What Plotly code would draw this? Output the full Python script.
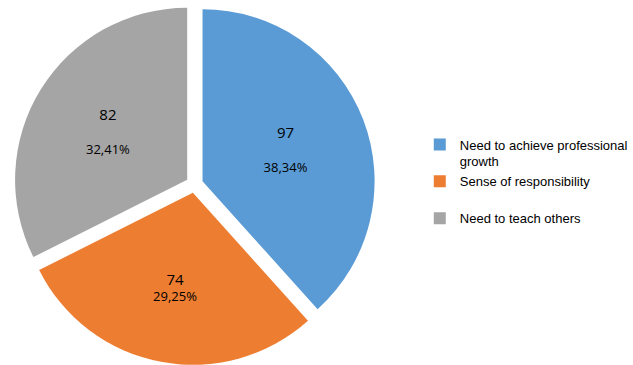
import plotly.graph_objects as go

categories = ["Need to achieve professional<br>growth", "Sense of responsibility<br> ", "Need to teach others"]
values = [97, 74, 82]
colors = ["#5B9BD5", "#ED7D31", "#A5A5A5"]
label_gaps = ["<br><br>", "<br>", "<br><br>"]

total = sum(values)
pct_labels = [f"{v / total * 100:.2f}%".replace(".", ",") for v in values]
texts = [f"<span style='font-size:15px'>{v}</span>{g}{p}" for v, g, p in zip(values, label_gaps, pct_labels)]

fig = go.Figure(go.Pie(
    labels=categories,
    values=values,
    text=texts,
    textinfo="text",
    textposition="inside",
    insidetextorientation="horizontal",
    textfont=dict(family="Open Sans, Liberation Sans", size=13, color="#000000"),
    marker=dict(colors=colors, line=dict(width=0)),
    pull=[0.05, 0.05, 0.05],
    sort=False,
    direction="clockwise",
    rotation=0,
    hoverinfo="skip",
    domain=dict(x=[0.022, 0.622], y=[0.0, 0.99]),
))

fig.update_layout(
    width=633, height=365,
    margin=dict(l=0, r=0, t=0, b=0),
    paper_bgcolor="white",
    showlegend=True,
    legend=dict(
        x=0.695, y=0.645, xanchor="left", yanchor="top", valign="top",
        font=dict(family="Liberation Sans", size=13, color="#000000"),
        itemwidth=30, tracegroupgap=0,
    ),
)

fig.write_html("out.html")
